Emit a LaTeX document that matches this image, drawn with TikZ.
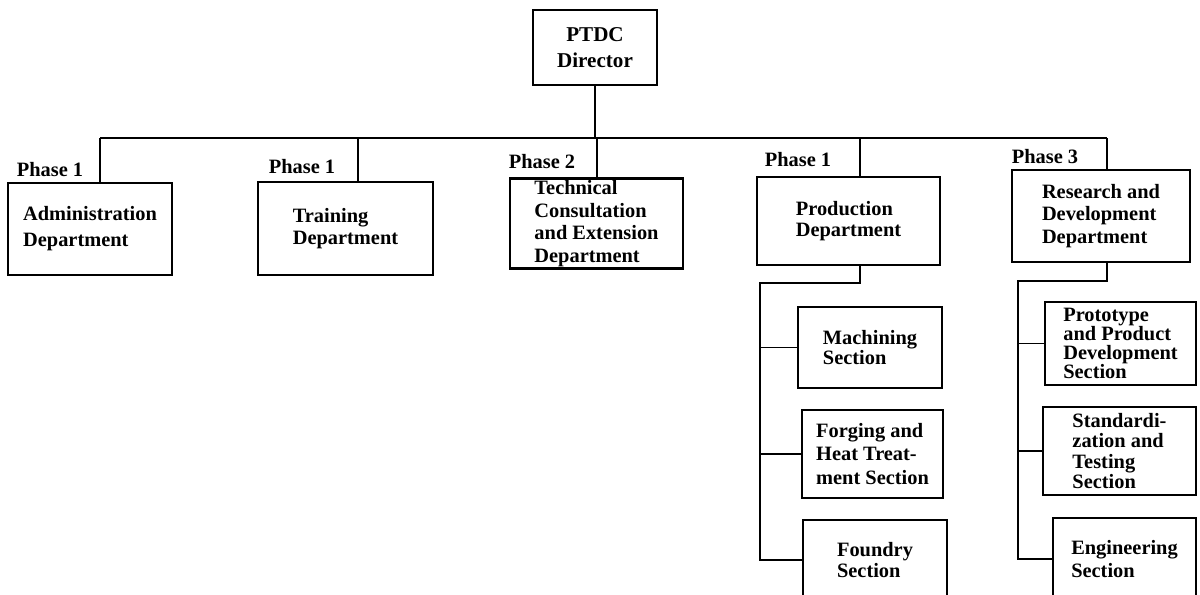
\documentclass[tikz,border=0pt]{standalone}
\usepackage{fontspec}
\setmainfont{Liberation Serif}
\usetikzlibrary{positioning, calc}

\begin{document}
\begin{tikzpicture}[
    x=0.025cm, y=-0.025cm,
    every node/.style={font=\bfseries},
    unit/.style={draw, line width=1.7pt, align=left, inner sep=1.5pt,
      font=\fontsize{14.5}{16}\selectfont\bfseries},
    section/.style={unit},
    lead/.style={font=\fontsize{14.5}{#1}\selectfont\bfseries},
    phase/.style={inner sep=1pt, font=\fontsize{14.5}{16}\selectfont\bfseries},
    boxsize/.style 2 args={minimum width=#1*0.025cm, minimum height=#2*0.025cm},
    trunk/.style={line width=2.1pt},
    branch/.style={line width=0.8pt},
  ]

  % Page
  \useasboundingbox (0,0) rectangle (1200,594);
  \clip (0,0) rectangle (1200,594);

  % === Director ===
  \node[unit, align=center, boxsize={124}{75},
        font=\fontsize{15}{18}\selectfont\bfseries] (dir) at (595,47.5)
    {PTDC\\Director};

  % === Departments ===
  \node[unit, lead=18.5, boxsize={164}{92}] (adm) at (90,229)
    {Administration\\Department};
  \node[unit, lead=15.5, boxsize={175}{93}] (trn) at (345.5,228.5)
    {Training\\Department};
  \node[unit, lead=16, boxsize={173}{89}] (tce) at (596.5,223.5)
    {Technical\\Consultation\\and Extension\\Department};
  \node[unit, lead=14.5, boxsize={183}{88}] (prd) at (848.5,221)
    {Production\\Department};
  \node[unit, lead=16, boxsize={178}{92}] (rnd) at (1101,216)
    {Research and\\Development\\Department};

  % Phase labels
  \node[phase] (ph-adm) at (50,170) {Phase 1};
  \node[phase] (ph-trn) at (302,167) {Phase 1};
  \node[phase] (ph-tce) at (542,162) {Phase 2};
  \node[phase] (ph-prd) at (798,160) {Phase 1};
  \node[phase] (ph-rnd) at (1045,157) {Phase 3};

  % === Sections of production ===
  \node[section, lead=14.5, boxsize={144}{81}] (mac) at (870,347.5)
    {Machining\\Section};
  \node[section, lead=17, boxsize={141}{88}] (frg) at (872.5,454)
    {Forging and\\Heat Treat-\\ment Section};
  \node[section, lead=15.5, boxsize={144}{80}] (fdy) at (875,560)
    {Foundry\\Section};

  % === Sections of research and development ===
  \node[section, lead=13.5, boxsize={151}{83}] (pro) at (1120.5,343.5)
    {Prototype\\and Product\\Development\\Section};
  \node[section, lead=14.5, boxsize={153}{88}] (std) at (1119.5,451)
    {Standardi-\\zation and\\Testing\\Section};
  \node[section, lead=16, boxsize={143}{82}] (eng) at (1124.5,559)
    {Engineering\\Section};

  % === Main bus ===
  \coordinate (busL) at (100,138);
  \coordinate (busR) at (1107,138);
  \draw[trunk] (busL) -- (busR);
  \draw[trunk] (dir.south) -- (dir.south |- busL);
  \foreach \x/\n in {100/adm, 358/trn, 597/tce, 860/prd, 1107/rnd}
    \draw[trunk] (\x,138) -- (\x,0 |- \n.north);

  % Production branch
  \coordinate (prdbus) at (760,283);
  \draw[trunk] (860,0 |- prd.south) -- (860,0 |- prdbus) -- (prdbus)
    -- (prdbus |- fdy.west) -- (fdy.west);
  \draw[branch] (prdbus |- mac.west) -- (mac.west);
  \draw[branch] (prdbus |- frg.west) -- (frg.west);

  % Research and development branch
  \coordinate (rndbus) at (1018,281);
  \draw[trunk] (1107,0 |- rnd.south) -- (1107,0 |- rndbus) -- (rndbus)
    -- (rndbus |- eng.west) -- (eng.west);
  \draw[branch] (rndbus |- pro.west) -- (pro.west);
  \draw[branch] (rndbus |- std.west) -- (std.west);

\end{tikzpicture}
\end{document}
